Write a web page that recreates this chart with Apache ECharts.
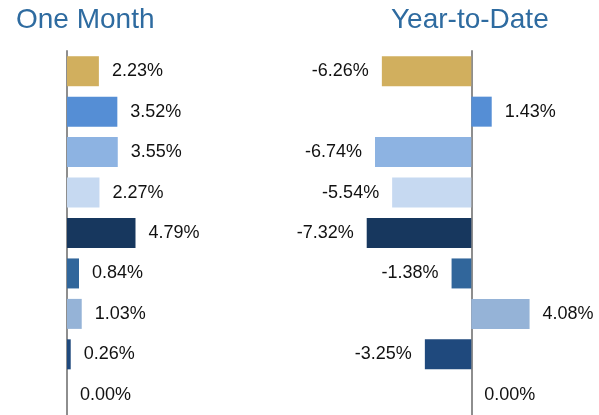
<!DOCTYPE html>
<html>
<head>
<meta charset="utf-8">
<script src="https://cdn.jsdelivr.net/npm/echarts@6/dist/echarts.min.js"></script>
<style>
  html, body { margin: 0; padding: 0; background: #fff; }
  #chart { width: 599px; height: 415px; }
</style>
</head>
<body>
<div id="chart"></div>
<script>
// rows (no visible category labels in the original)
const categories = ['r1', 'r2', 'r3', 'r4', 'r5', 'r6', 'r7', 'r8', 'r9'];
const oneMonth = [2.23, 3.52, 3.55, 2.27, 4.79, 0.84, 1.03, 0.26, 0.0];
const yearToDate = [-6.26, 1.43, -6.74, -5.54, -7.32, -1.38, 4.08, -3.25, 0.0];
const barColors = ['#D1AF5E', '#558ED5', '#8DB3E2', '#C6D9F1', '#17375E', '#31669B', '#95B3D7', '#1F497D', '#1F497D'];
const titles = ['One Month', 'Year-to-Date'];

const FONT = '"Liberation Sans Narrow", "Arial Narrow", "Liberation Sans", Arial, sans-serif';
const chart = echarts.init(document.getElementById('chart'));

const makeData = values =>
  values.map((v, i) => ({
    value: v,
    itemStyle: { color: barColors[i] },
    label: { position: v < 0 ? 'left' : 'right' }
  }));

const catAxis = gridIndex => ({
  type: 'category',
  gridIndex,
  data: categories,
  inverse: true,
  axisTick: { show: false },
  axisLabel: { show: false },
  axisLine: { show: true, onZero: true, lineStyle: { color: '#8e8e8e', width: 2 } }
});

const valAxis = (gridIndex, min, max) => ({
  type: 'value',
  gridIndex,
  min,
  max,
  show: false,
  splitLine: { show: false }
});

const labelStyle = {
  show: true,
  distance: 13,
  color: '#111',
  fontFamily: FONT,
  fontSize: 18,
  formatter: p => `${p.value.toFixed(2)}%`
};

const titleStyle = { color: '#2E6BA0', fontFamily: FONT, fontSize: 28, fontWeight: 'normal' };

chart.setOption({
  animation: false,
  title: [
    { text: titles[0], left: 16, top: 6, padding: 0, textStyle: titleStyle },
    { text: titles[1], left: 391, top: 6, padding: 0, textStyle: titleStyle }
  ],
  grid: [
    { left: 67, top: 51, width: 143, height: 367 },
    { left: 357, top: 51, width: 200, height: 367 }
  ],
  xAxis: [valAxis(0, 0, 10), valAxis(1, -8, 6)],
  yAxis: [catAxis(0), catAxis(1)],
  series: [
    {
      name: titles[0],
      type: 'bar',
      xAxisIndex: 0,
      yAxisIndex: 0,
      barWidth: 30,
      label: labelStyle,
      data: makeData(oneMonth)
    },
    {
      name: titles[1],
      type: 'bar',
      xAxisIndex: 1,
      yAxisIndex: 1,
      barWidth: 30,
      label: labelStyle,
      data: makeData(yearToDate)
    }
  ]
});
</script>
</body>
</html>
